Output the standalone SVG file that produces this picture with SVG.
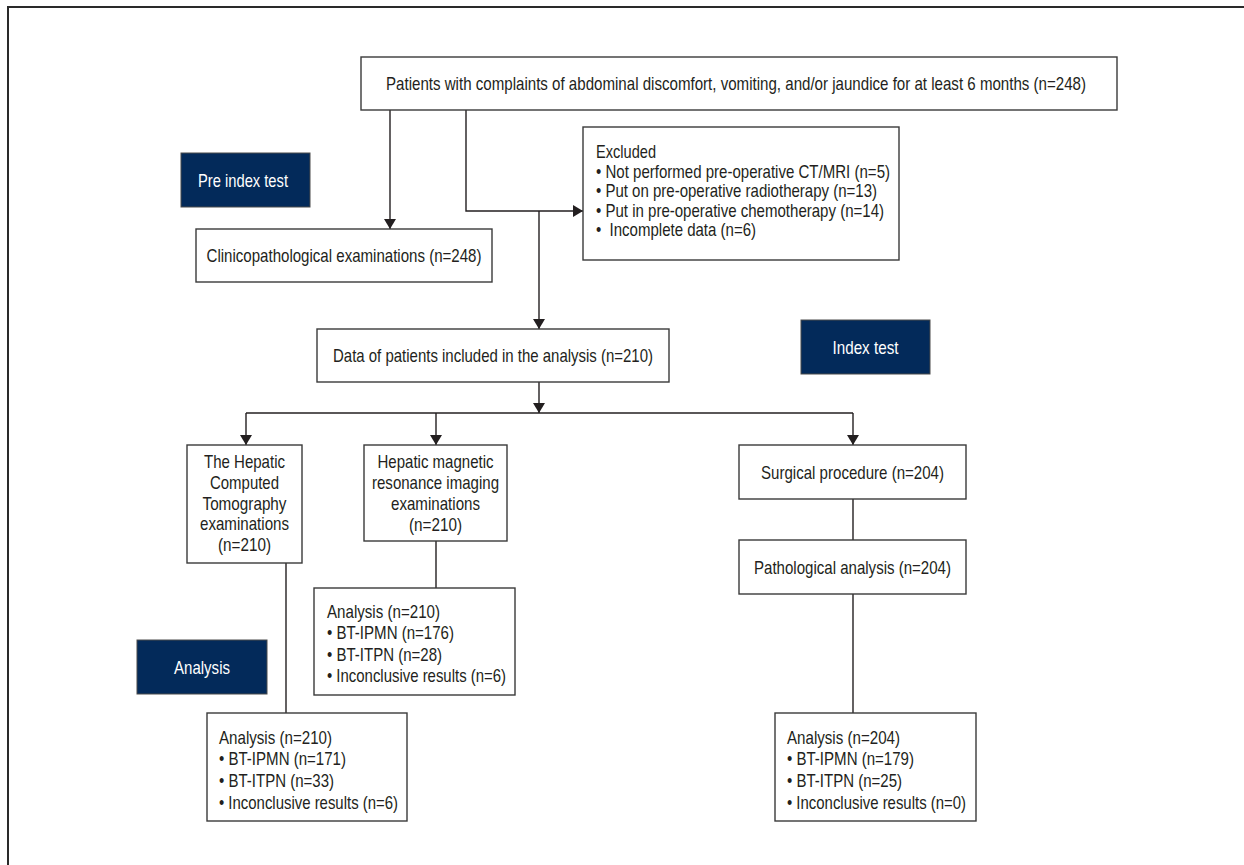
<svg xmlns="http://www.w3.org/2000/svg" width="1244" height="865" viewBox="0 0 1244 865">
<defs>
<marker id="ah" viewBox="0 0 10 12" refX="10" refY="6" markerWidth="10" markerHeight="12" markerUnits="userSpaceOnUse" orient="auto">
<path d="M0,0 L10,6 L0,12 Z" fill="#231f20"/>
</marker>
</defs>
<style>
.box{fill:#fff;stroke:#3a3a3a;stroke-width:1.4}
.nav{fill:#032a5a;stroke:#4a4a4a;stroke-width:1}
.t{font-family:"Liberation Sans",Arial,sans-serif;font-size:18.5px;fill:#231f20}
.c{text-anchor:middle}
.w{fill:#ffffff}
.ln{fill:none;stroke:#231f20;stroke-width:1.4}
.fr{fill:none;stroke:#2a2a2a;stroke-width:2}
</style>
<rect width="1244" height="865" fill="#ffffff"/>
<path class="fr" d="M8,865 L8,7 L1244,7"/>

<g id="connectors">
<line class="ln" x1="390" y1="110" x2="390" y2="229" marker-end="url(#ah)"/>
<polyline class="ln" points="466,110 466,211 583,211" marker-end="url(#ah)"/>
<line class="ln" x1="539" y1="211" x2="539" y2="329" marker-end="url(#ah)"/>
<line class="ln" x1="539" y1="382" x2="539" y2="413" marker-end="url(#ah)"/>
<line class="ln" x1="246" y1="413" x2="853" y2="413"/>
<line class="ln" x1="246" y1="413" x2="246" y2="445" marker-end="url(#ah)"/>
<line class="ln" x1="436" y1="413" x2="436" y2="445" marker-end="url(#ah)"/>
<line class="ln" x1="853" y1="413" x2="853" y2="445" marker-end="url(#ah)"/>
<line class="ln" x1="436" y1="541" x2="436" y2="588"/>
<line class="ln" x1="286" y1="563" x2="286" y2="713"/>
<line class="ln" x1="853" y1="499" x2="853" y2="540"/>
<line class="ln" x1="853" y1="594" x2="853" y2="713"/>
</g>

<g id="n-top">
<rect class="box" x="361" y="57" width="756" height="53"/>
<text class="t c" x="736" y="90" textLength="700" lengthAdjust="spacingAndGlyphs">Patients with complaints of abdominal discomfort, vomiting, and/or jaundice for at least 6 months (n=248)</text>
</g>

<g id="n-preindex">
<rect class="nav" x="181" y="153" width="129" height="54"/>
<text class="t c w" x="243" y="186.5" textLength="90" lengthAdjust="spacingAndGlyphs">Pre index test</text>
</g>

<g id="n-clinico">
<rect class="box" x="196" y="229" width="296" height="53"/>
<text class="t c" x="344" y="262" textLength="275" lengthAdjust="spacingAndGlyphs">Clinicopathological examinations (n=248)</text>
</g>

<g id="n-excluded">
<rect class="box" x="583" y="127" width="316" height="133"/>
<text class="t" x="596" y="158" textLength="60" lengthAdjust="spacingAndGlyphs">Excluded</text>
<text class="t" x="596" y="177.5" textLength="294" lengthAdjust="spacingAndGlyphs">• Not performed pre-operative CT/MRI (n=5)</text>
<text class="t" x="596" y="197" textLength="281" lengthAdjust="spacingAndGlyphs">• Put on pre-operative radiotherapy (n=13)</text>
<text class="t" x="596" y="216.5" textLength="288" lengthAdjust="spacingAndGlyphs">• Put in pre-operative chemotherapy (n=14)</text>
<text class="t" x="596" y="236" style="white-space:pre" textLength="160" lengthAdjust="spacingAndGlyphs">•  Incomplete data (n=6)</text>
</g>

<g id="n-data">
<rect class="box" x="317" y="329" width="352" height="53"/>
<text class="t c" x="493" y="362" textLength="320" lengthAdjust="spacingAndGlyphs">Data of patients included in the analysis (n=210)</text>
</g>

<g id="n-index">
<rect class="nav" x="801" y="320" width="129" height="54"/>
<text class="t c w" x="865.5" y="353.5" textLength="66" lengthAdjust="spacingAndGlyphs">Index test</text>
</g>

<g id="n-ct">
<rect class="box" x="187" y="445" width="115" height="118"/>
<text class="t c" x="244.5" y="468" textLength="81" lengthAdjust="spacingAndGlyphs">The Hepatic</text>
<text class="t c" x="244.5" y="489" textLength="69" lengthAdjust="spacingAndGlyphs">Computed</text>
<text class="t c" x="244.5" y="509.5" textLength="84" lengthAdjust="spacingAndGlyphs">Tomography</text>
<text class="t c" x="244.5" y="530" textLength="89" lengthAdjust="spacingAndGlyphs">examinations</text>
<text class="t c" x="244.5" y="551" textLength="53" lengthAdjust="spacingAndGlyphs">(n=210)</text>
</g>

<g id="n-mri">
<rect class="box" x="364" y="445" width="143" height="96"/>
<text class="t c" x="435.5" y="468" textLength="116" lengthAdjust="spacingAndGlyphs">Hepatic magnetic</text>
<text class="t c" x="435.5" y="489" textLength="127" lengthAdjust="spacingAndGlyphs">resonance imaging</text>
<text class="t c" x="435.5" y="510" textLength="89" lengthAdjust="spacingAndGlyphs">examinations</text>
<text class="t c" x="435.5" y="531" textLength="53" lengthAdjust="spacingAndGlyphs">(n=210)</text>
</g>

<g id="n-surgical">
<rect class="box" x="739" y="445" width="227" height="54"/>
<text class="t c" x="852.5" y="478.5" textLength="183" lengthAdjust="spacingAndGlyphs">Surgical procedure (n=204)</text>
</g>

<g id="n-patho">
<rect class="box" x="739" y="540" width="227" height="54"/>
<text class="t c" x="852.5" y="573.5" textLength="197" lengthAdjust="spacingAndGlyphs">Pathological analysis (n=204)</text>
</g>

<g id="n-analysis-label">
<rect class="nav" x="137" y="640" width="130" height="54"/>
<text class="t c w" x="202" y="673.5" textLength="56" lengthAdjust="spacingAndGlyphs">Analysis</text>
</g>

<g id="n-mri-analysis">
<rect class="box" x="314" y="588" width="201" height="107"/>
<text class="t" x="327" y="618" textLength="113" lengthAdjust="spacingAndGlyphs">Analysis (n=210)</text>
<text class="t" x="327" y="639" textLength="127" lengthAdjust="spacingAndGlyphs">• BT-IPMN (n=176)</text>
<text class="t" x="327" y="661" textLength="115" lengthAdjust="spacingAndGlyphs">• BT-ITPN (n=28)</text>
<text class="t" x="327" y="682" textLength="179" lengthAdjust="spacingAndGlyphs">• Inconclusive results (n=6)</text>
</g>

<g id="n-ct-analysis">
<rect class="box" x="207" y="713" width="200" height="108"/>
<text class="t" x="219" y="744" textLength="113" lengthAdjust="spacingAndGlyphs">Analysis (n=210)</text>
<text class="t" x="219" y="765" textLength="127" lengthAdjust="spacingAndGlyphs">• BT-IPMN (n=171)</text>
<text class="t" x="219" y="787" textLength="115" lengthAdjust="spacingAndGlyphs">• BT-ITPN (n=33)</text>
<text class="t" x="219" y="809" textLength="179" lengthAdjust="spacingAndGlyphs">• Inconclusive results (n=6)</text>
</g>

<g id="n-path-analysis">
<rect class="box" x="775" y="713" width="201" height="108"/>
<text class="t" x="787" y="744" textLength="113" lengthAdjust="spacingAndGlyphs">Analysis (n=204)</text>
<text class="t" x="787" y="765" textLength="127" lengthAdjust="spacingAndGlyphs">• BT-IPMN (n=179)</text>
<text class="t" x="787" y="787" textLength="115" lengthAdjust="spacingAndGlyphs">• BT-ITPN (n=25)</text>
<text class="t" x="787" y="809" textLength="179" lengthAdjust="spacingAndGlyphs">• Inconclusive results (n=0)</text>
</g>
</svg>
